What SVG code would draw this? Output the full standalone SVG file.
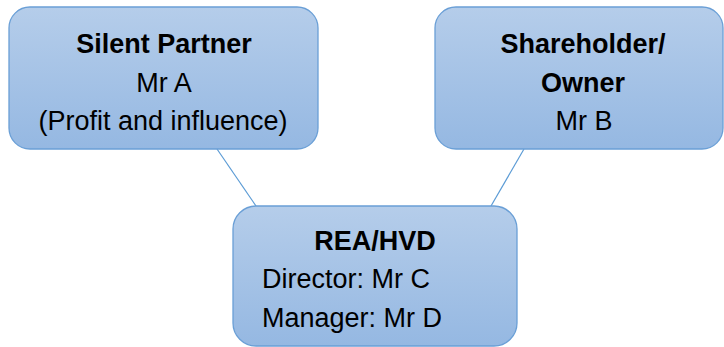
<svg xmlns="http://www.w3.org/2000/svg" width="724" height="347" viewBox="0 0 724 347">
<defs>
<linearGradient id="g" x1="0" y1="0" x2="0" y2="1">
<stop offset="0" stop-color="#b5cdea"/>
<stop offset="1" stop-color="#95b8e2"/>
</linearGradient>
<style>
.box{fill:url(#g);stroke:#6a9fd6;stroke-width:1.3}
.t{font-family:"Liberation Sans",Arial,sans-serif;font-size:27px;fill:#000}
.b{font-weight:bold}
.c{text-anchor:middle}
.conn{stroke:#5b9bd5;stroke-width:1.2;fill:none}
</style>
</defs>
<rect width="724" height="347" fill="#fff"/>
<g id="connectors">
<line class="conn" x1="217" y1="149" x2="256" y2="206"/>
<line class="conn" x1="524" y1="149" x2="491" y2="206"/>
</g>
<g id="silent-partner">
<rect class="box" x="9" y="7" width="309" height="142" rx="21"/>
<text class="t b c" x="164" y="53">Silent Partner</text>
<text class="t c" x="164" y="92">Mr A</text>
<text class="t c" x="163" y="130">(Profit and influence)</text>
</g>
<g id="shareholder">
<rect class="box" x="435" y="7" width="288" height="142" rx="21"/>
<text class="t b c" x="583" y="53">Shareholder/</text>
<text class="t b c" x="583" y="92">Owner</text>
<text class="t c" x="584" y="130">Mr B</text>
</g>
<g id="rea-hvd">
<rect class="box" x="233" y="206" width="284" height="140" rx="23"/>
<text class="t b c" x="375" y="250">REA/HVD</text>
<text class="t" x="262" y="288">Director: Mr C</text>
<text class="t" x="262" y="327">Manager: Mr D</text>
</g>
</svg>
